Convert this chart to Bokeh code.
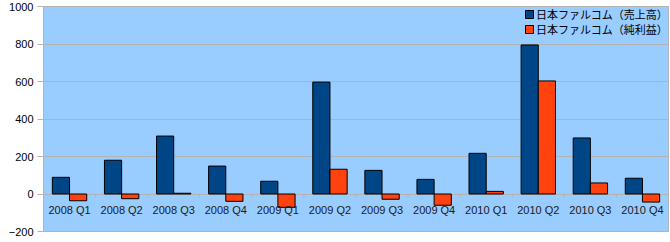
from bokeh.plotting import figure
from bokeh.models import FactorRange, Range1d, ColumnDataSource, Legend, LegendItem
from bokeh.transform import dodge
from bokeh.core.properties import value
from bokeh.embed import file_html
from bokeh.resources import INLINE

quarters = ["2008 Q1", "2008 Q2", "2008 Q3", "2008 Q4",
            "2009 Q1", "2009 Q2", "2009 Q3", "2009 Q4",
            "2010 Q1", "2010 Q2", "2010 Q3", "2010 Q4"]
sales = [89, 180, 309, 149, 68, 597, 126, 78, 217, 795, 299, 84]
profit = [-36, -25, 4, -39, -71, 132, -28, -60, 14, 603, 59, -43]
series_names = ["日本ファルコム（売上高）", "日本ファルコム（純利益）"]
y_ticks = [-200, 0, 200, 400, 600, 800, 1000]

BLUE = "#004586"
ORANGE = "#ff420e"
GRID = "#b3b3b3"

src = ColumnDataSource(dict(q=quarters, sales=sales, profit=profit))

p = figure(width=670, height=242, output_backend="svg", toolbar_location=None,
           x_range=FactorRange(*quarters, range_padding=0),
           y_range=Range1d(-200, 1000),
           min_border_left=43, min_border_right=2, min_border_top=6, min_border_bottom=11)

p.background_fill_color = "#99ccff"
p.border_fill_color = "white"
p.outline_line_color = GRID

r1 = p.vbar(x=dodge("q", -0.165, range=p.x_range), top="sales", bottom=0, width=0.33,
            source=src, fill_color=BLUE, line_color="black", line_width=1)
r2 = p.vbar(x=dodge("q", 0.165, range=p.x_range), top="profit", bottom=0, width=0.33,
            source=src, fill_color=ORANGE, line_color="black", line_width=1)

# category boundary ticks on the zero line
bounds = list(range(1, len(quarters)))
p.segment(x0=bounds, x1=bounds, y0=[0] * len(bounds), y1=[-20] * len(bounds),
          line_color=GRID, line_width=1)

# category labels inside the plot
p.text(x=quarters, y=[-85] * len(quarters), text=quarters,
       text_font=value("Liberation Sans"), text_font_size="11px",
       text_align="center", text_baseline="middle", text_color="#1a1a1a")

p.xaxis.visible = False
p.xgrid.grid_line_color = None
p.ygrid.grid_line_color = GRID
p.yaxis.ticker = y_ticks
p.yaxis.axis_line_color = GRID
p.yaxis.major_tick_line_color = GRID
p.yaxis.major_tick_out = 6
p.yaxis.major_tick_in = 0
p.yaxis.minor_tick_line_color = None
p.yaxis.major_label_standoff = 4
p.yaxis.major_label_text_font = "Liberation Sans"
p.yaxis.major_label_text_font_size = "11px"
p.yaxis.major_label_text_color = "black"


def make_legend(label, renderer, loc):
    lg = Legend(items=[LegendItem(label=label, renderers=[renderer])], location=loc)
    lg.border_line_color = None
    lg.background_fill_alpha = 0
    lg.padding = 0
    lg.margin = 0
    lg.spacing = 0
    lg.glyph_width = 10
    lg.glyph_height = 10
    lg.label_height = 12
    lg.label_standoff = 2
    lg.label_text_font = "Noto Sans CJK JP"
    lg.label_text_font_size = "11px"
    lg.label_text_color = "black"
    return lg


p.add_layout(make_legend(series_names[0], r1, (481, 209)), "center")
p.add_layout(make_legend(series_names[1], r2, (481, 194)), "center")

open("out.html", "w").write(file_html(p, INLINE))
